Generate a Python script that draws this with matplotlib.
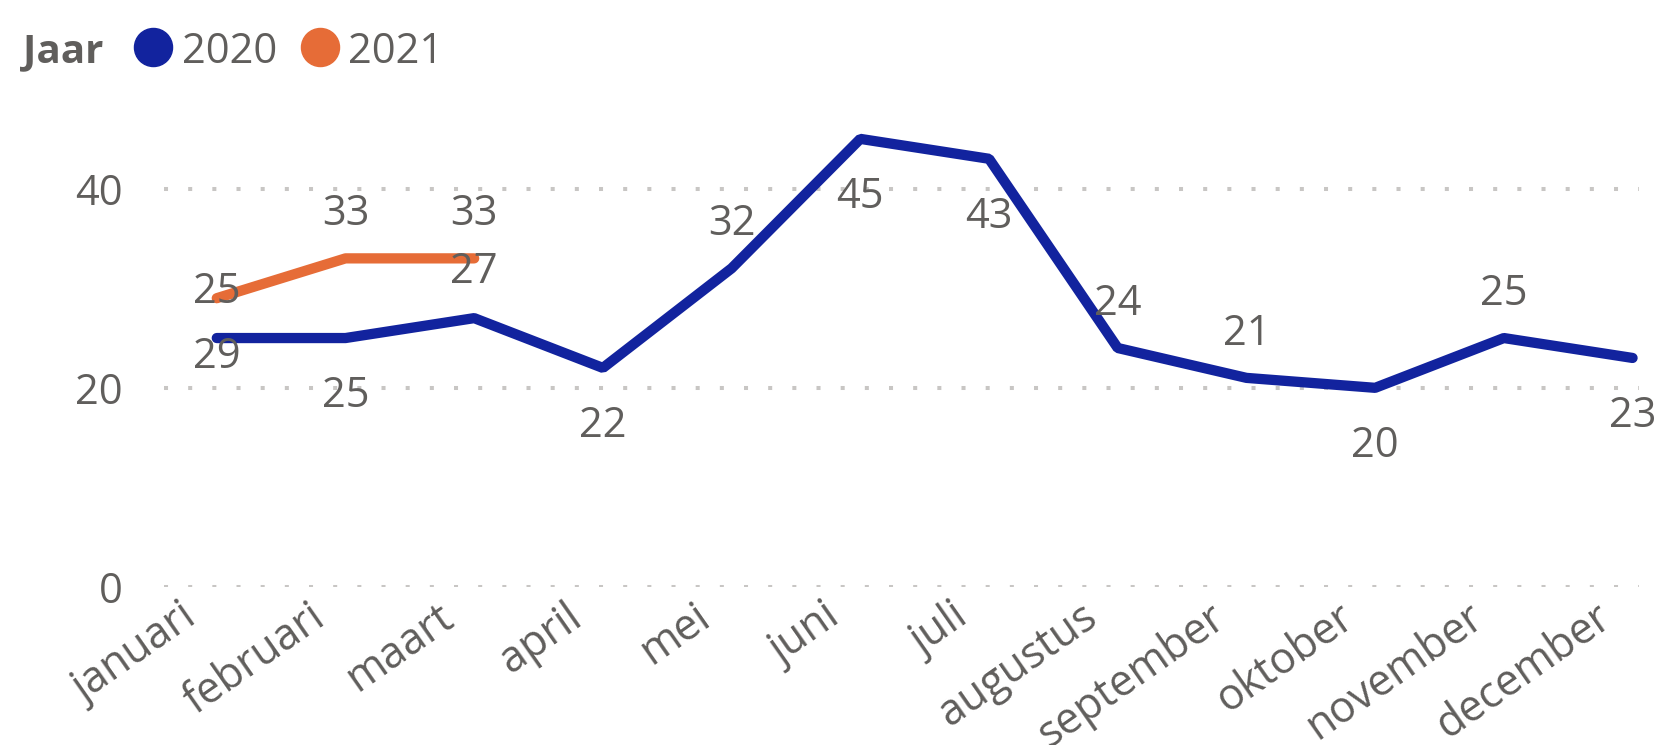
import matplotlib
matplotlib.use("Agg")
import matplotlib.pyplot as plt
from matplotlib.lines import Line2D
import matplotlib.transforms as mtransforms

# ---- data ----
months = ["januari", "februari", "maart", "april", "mei", "juni", "juli",
          "augustus", "september", "oktober", "november", "december"]
values_2020 = [25, 25, 27, 22, 32, 45, 43, 24, 21, 20, 25, 23]
values_2021 = [29, 33, 33]
labels_2020 = ["29", "25", "27", "22", "32", "45", "43", "24", "21", "20", "25", "23"]
labels_2021 = ["25", "33", "33"]
yticks = [0, 20, 40]
legend_title = "Jaar"
series_names = ["2020", "2021"]

# ---- style ----
BLUE = "#12239E"
ORANGE = "#E66C37"
TXT = "#605E5C"
GRID = "#C8C6C4"
FONT = "Open Sans"
# baseline offsets (points) of data labels relative to their point
off_2020 = [-21.6, -50, 25, -50, 24, -50, -50, 24, 24, -50, 24, -50]
off_2021 = [-3.6, 24, 24]

plt.rcParams['font.family'] = [FONT, 'DejaVu Sans']

W, H = 1663, 745
fig = plt.figure(figsize=(W / 100, H / 100), dpi=100)
left_px, right_px = 164, 1639
bot_px, top_px = 587, 109
ax = fig.add_axes([left_px / W, 1 - bot_px / H, (right_px - left_px) / W, (bot_px - top_px) / H])

x20 = list(range(len(values_2020)))
x21 = list(range(len(values_2021)))

ax.plot(x20, values_2020, color=BLUE, lw=7.4, solid_capstyle='round',
        solid_joinstyle='bevel', clip_on=False, zorder=3)
ax.plot(x21, values_2021, color=ORANGE, lw=7.4, solid_capstyle='round',
        solid_joinstyle='bevel', clip_on=False, zorder=3)

for xs, vals, labs, offs in [(x20, values_2020, labels_2020, off_2020),
                             (x21, values_2021, labels_2021, off_2021)]:
    for xi, v, lab, o in zip(xs, vals, labs, offs):
        ax.annotate(lab, (xi, v), xytext=(0, o), textcoords='offset points',
                    ha='center', va='baseline', fontsize=30, color=TXT,
                    zorder=5, annotation_clip=False)

ax.set_xlim(-0.41, 11.05)
ax.set_ylim(0, 48)
ax.set_yticks(yticks)
ax.set_yticklabels([str(t) for t in yticks], fontsize=30, color=TXT)
ax.tick_params(axis='y', length=0, pad=30)
ax.yaxis.grid(True, color=GRID, lw=2.9, linestyle=(0, (1, 5)))
ax.set_axisbelow(True)

ax.set_xticks(x20)
ax.set_xticklabels(months, fontsize=31, color=TXT, rotation=35,
                   ha='right', va='center', rotation_mode='anchor')
ax.tick_params(axis='x', length=0, pad=19)
shift = mtransforms.ScaledTranslation(-25 / 100, 0, fig.dpi_scale_trans)
for lbl in ax.get_xticklabels():
    lbl.set_transform(lbl.get_transform() + shift)

for s in ax.spines.values():
    s.set_visible(False)

# ---- legend ----
fig.text(23 / W, 1 - 47 / H, legend_title, fontsize=29, fontweight='bold',
         color=TXT, ha='left', va='center_baseline')
for cx, tx, col, name in [(153, 182, BLUE, series_names[0]),
                          (320, 348, ORANGE, series_names[1])]:
    fig.add_artist(Line2D([cx / W], [1 - 47 / H], marker='o', markersize=27.4,
                          color=col, lw=0, transform=fig.transFigure))
    fig.text(tx / W, 1 - 47 / H, name, fontsize=30, color=TXT,
             ha='left', va='center_baseline')

fig.savefig("out.png", dpi=100)
